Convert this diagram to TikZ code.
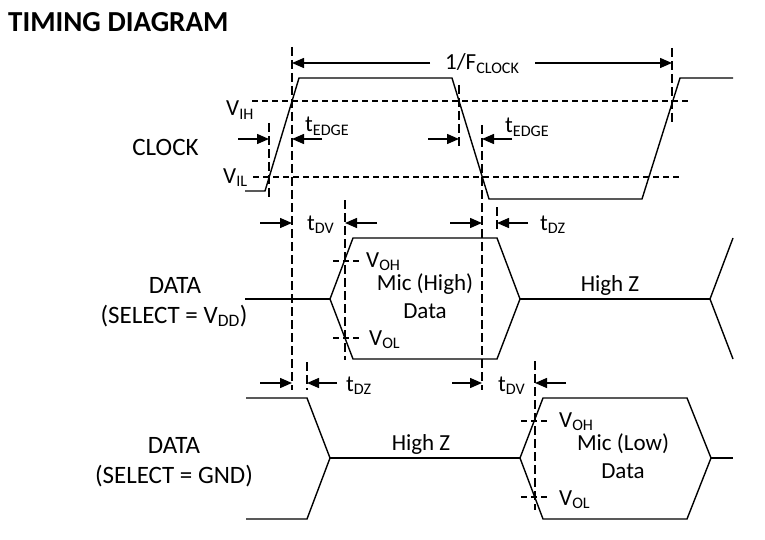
\documentclass[tikz,border=0pt]{standalone}
\usepackage{fontspec}
\setmainfont{Carlito}
\usetikzlibrary{arrows.meta}
\begin{document}
\begin{tikzpicture}[x=1pt,y=-1pt,
  wave/.style={line width=1.4pt, line join=miter},
  guide/.style={line width=1.2pt, dash pattern=on 6pt off 4pt},
  vguide/.style={line width=1.2pt, dash pattern=on 9pt off 4pt},
  dim/.style={line width=1.4pt, -{Triangle[length=12pt,width=10pt]}},
  lbl/.style={font=\fontsize{23}{27}\selectfont, inner sep=0pt},
  side/.style={font=\fontsize{25}{29}\selectfont, inner sep=0pt, anchor=base},
  lw/.style={lbl, anchor=base west},
  lc/.style={lbl, anchor=base},
]
\useasboundingbox (0,0) rectangle (765,540);

% title
\node[anchor=base west, inner sep=0pt, font=\fontsize{29}{34}\selectfont\bfseries] (title) at (8,32) {TIMING DIAGRAM};

% ---------- clock ----------
\draw[wave] (245,191) -- (265,191) -- (299,78) -- (452,78) -- (489,199) -- (642,199) -- (680,78) -- (733,78);
\draw[guide] (252,101) -- (688,101);
\draw[guide] (253,177) -- (682,177);

% vertical guides
\coordinate (A1) at (292,47);  \coordinate (A2) at (292,390);
\coordinate (B1) at (269,123); \coordinate (B2) at (269,200);
\coordinate (C1) at (345,200); \coordinate (C2) at (345,360);
\coordinate (D1) at (459,85);  \coordinate (D2) at (459,148);
\coordinate (E1) at (482,125); \coordinate (E2) at (482,390);
\coordinate (F1) at (497,207); \coordinate (F2) at (497,232);
\coordinate (G1) at (672,48);  \coordinate (G2) at (672,123);
\coordinate (H1) at (307,362); \coordinate (H2) at (307,390);
\coordinate (I1) at (535,361); \coordinate (I2) at (535,510);
\foreach \p in {A,B,C,D,E,F,G,H,I} \draw[vguide] (\p1) -- (\p2);

% dimension arrows
\draw[dim] (430,63) -- (292,63);
\draw[dim] (535,63) -- (672,63);
\draw[dim] (238,139) -- (269,139);
\draw[dim] (322,139) -- (292,139);
\draw[dim] (428,139) -- (459,139);
\draw[dim] (512,139) -- (482,139);
\draw[dim] (260,223) -- (292,223);
\draw[dim] (377,223) -- (345,223);
\draw[dim] (450,223) -- (482,223);
\draw[dim] (528,223) -- (497,223);
\draw[dim] (260,383) -- (292,383);
\draw[dim] (337,383) -- (307,383);
\draw[dim] (452,383) -- (482,383);
\draw[dim] (566,383) -- (535,383);

% ---------- data (select = VDD) ----------
\draw[wave] (245,299) -- (330,299);
\draw[wave] (330,299) -- (353,238) -- (497,238) -- (520,299) -- (497,359) -- (353,359) -- cycle;
\draw[wave] (520,299) -- (710,299);
\draw[wave] (733,238) -- (710,299) -- (733,359);
\draw[guide] (333,261) -- (361,261);
\draw[guide] (333,338) -- (361,338);

% ---------- data (select = GND) ----------
\draw[wave] (246,398) -- (307,398) -- (330,458) -- (307,519) -- (246,519);
\draw[wave] (330,458) -- (520,458);
\draw[wave] (520,458) -- (543,398) -- (687,398) -- (711,458) -- (687,519) -- (543,519) -- cycle;
\draw[wave] (711,458) -- (733,458);
\draw[guide] (521,421) -- (550,421);
\draw[guide] (521,497) -- (550,497);

% ---------- labels ----------
\node[side] (clk) at (165.5,156) {CLOCK};
\node[lw] (vih) at (226,116) {V\textsubscript{IH}};
\node[lw] (vil) at (223,183) {V\textsubscript{IL}};
\node[lw] (te1) at (305,132) {t\textsubscript{EDGE}};
\node[lw] (te2) at (505,133) {t\textsubscript{EDGE}};
\node[lw] (fclk) at (445,70) {1/F\textsubscript{CLOCK}};
\node[lw] (tdv1) at (307,230) {t\textsubscript{DV}};
\node[lw] (tdz1) at (540,230) {t\textsubscript{DZ}};
\node[lw] (tdz2) at (346,391) {t\textsubscript{DZ}};
\node[lw] (tdv2) at (498,391) {t\textsubscript{DV}};
\node[lw] (voh1) at (366,267) {V\textsubscript{OH}};
\node[lw] (vol1) at (369,345) {V\textsubscript{OL}};
\node[lw] (voh2) at (559,427) {V\textsubscript{OH}};
\node[lw] (vol2) at (559,505) {V\textsubscript{OL}};
\node[lc] (mh1) at (425,290) {Mic (High)};
\node[lc] (mh2) at (425,318) {Data};
\node[lc] (hz1) at (610,291) {High Z};
\node[lc] (hz2) at (421,450) {High Z};
\node[lc] (ml1) at (623,450) {Mic (Low)};
\node[lc] (ml2) at (623,478) {Data};
\node[side] (d1a) at (175,293) {DATA};
\node[side] (d1b) at (174,323) {(SELECT = V\textsubscript{DD})};
\node[side] (d2a) at (174,453) {DATA};
\node[side] (d2b) at (174,483) {(SELECT = GND)};
\end{tikzpicture}
\end{document}
